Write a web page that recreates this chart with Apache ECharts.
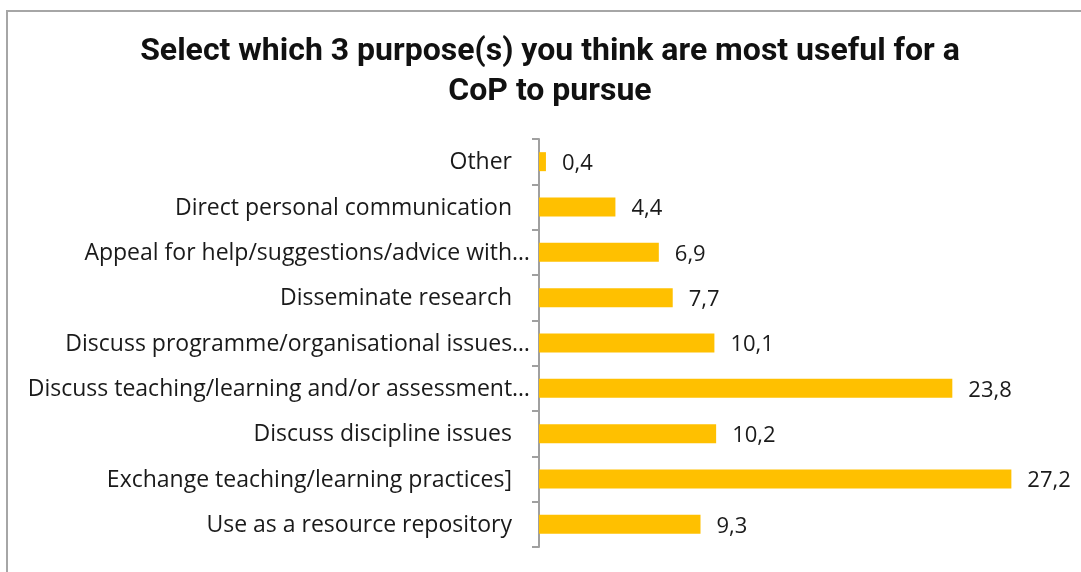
<!DOCTYPE html>
<html>
<head>
<meta charset="utf-8">
<script src="https://cdn.jsdelivr.net/npm/echarts@6/dist/echarts.min.js"></script>
<style>
  html, body { margin: 0; padding: 0; background: #fff; }
  #chart { width: 1081px; height: 572px; }
</style>
</head>
<body>
<div id="chart"></div>
<script>
// Survey purposes, listed bottom to top as they appear on the axis
const categories = [
  'Use as a resource repository',
  'Exchange teaching/learning practices]',
  'Discuss discipline issues',
  'Discuss teaching/learning and/or assessment…',
  'Discuss programme/organisational issues…',
  'Disseminate research',
  'Appeal for help/suggestions/advice with…',
  'Direct personal communication',
  'Other'
];
// Share of responses (%)
const values = [9.3, 27.2, 10.2, 23.8, 10.1, 7.7, 6.9, 4.4, 0.4];

const titleLines = ['Select which 3 purpose(s) you think are most useful for a', 'CoP to pursue'];

const labelFont = 'Open Sans';

const chart = echarts.init(document.getElementById('chart'), null, { renderer: 'canvas' });

chart.setOption({
  animation: false,
  backgroundColor: '#ffffff',
  title: {
    text: titleLines.join('\n'),
    left: 545,
    top: 27,
    textAlign: 'center',
    textStyle: {
      fontFamily: 'Roboto',
      fontWeight: 'bold',
      fontSize: 32,
      lineHeight: 40,
      color: '#111111'
    }
  },
  graphic: [{
    type: 'rect',
    shape: { x: 7, y: 11, width: 1100, height: 600 },
    style: { fill: 'none', stroke: '#a6a6a6', lineWidth: 2 },
    silent: true,
    z: -1
  }],
  grid: {
    left: 539,
    right: 21,
    top: 139,
    bottom: 25,
    containLabel: false
  },
  xAxis: {
    type: 'value',
    min: 0,
    max: 30,
    show: false
  },
  yAxis: {
    type: 'category',
    data: categories,
    axisLine: { show: true, lineStyle: { color: '#a0a0a0', width: 2 } },
    axisTick: { show: true, length: 7, lineStyle: { color: '#a0a0a0', width: 2 } },
    axisLabel: {
      margin: 9,
      fontFamily: labelFont,
      fontSize: 23,
      color: '#1a1a1a',
      formatter: function (v) {
        return v.endsWith('…') ? '{e|' + v + '}' : '{n|' + v + '}';
      },
      rich: {
        e: { fontFamily: labelFont, fontSize: 23, color: '#1a1a1a', padding: [2, 0, 0, 0] },
        n: { fontFamily: labelFont, fontSize: 23, color: '#1a1a1a', padding: [2, 18, 0, 0] }
      }
    }
  },
  series: [{
    type: 'bar',
    data: values,
    barWidth: 19,
    itemStyle: { color: '#FFC000' },
    label: {
      show: true,
      position: 'right',
      distance: 16,
      offset: [0, 2],
      fontFamily: labelFont,
      fontSize: 22,
      color: '#1a1a1a',
      formatter: function (p) { return String(p.value).replace('.', ','); }
    }
  }]
});
</script>
</body>
</html>
